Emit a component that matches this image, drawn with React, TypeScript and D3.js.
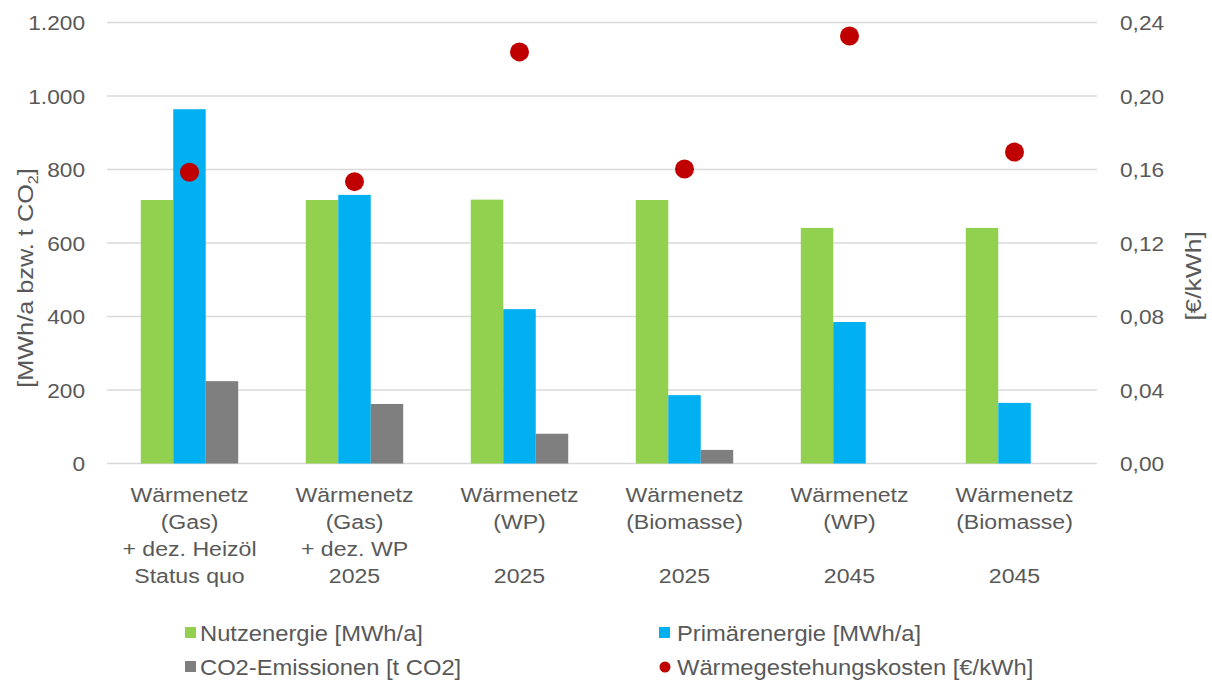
import React from "react";
import * as d3 from "d3";

const categories: string[][] = [
  ["Wärmenetz", "(Gas)", "+ dez. Heizöl", "Status quo"],
  ["Wärmenetz", "(Gas)", "+ dez. WP", "2025"],
  ["Wärmenetz", "(WP)", "", "2025"],
  ["Wärmenetz", "(Biomasse)", "", "2025"],
  ["Wärmenetz", "(WP)", "", "2045"],
  ["Wärmenetz", "(Biomasse)", "", "2045"],
];
const nutzenergie = [717, 717, 718, 717, 641, 641];
const primaerenergie = [964, 731, 420, 186, 385, 165];
const co2 = [224, 162, 81, 37, 0, 0];
const kosten = [0.1585, 0.1534, 0.224, 0.1603, 0.2327, 0.1695];
const leftTicks = [0, 200, 400, 600, 800, 1000, 1200];
const rightTicks = [0, 0.04, 0.08, 0.12, 0.16, 0.2, 0.24];

const seriesNames = ["Nutzenergie [MWh/a]", "Primärenergie [MWh/a]", "CO2-Emissionen [t CO2]", "Wärmegestehungskosten [€/kWh]"];
const colors = ["#92d050", "#00b0f0", "#7f7f7f", "#c00000"];

const W = 1212;
const H = 681;
const left = 107;
const right = 1097;
const top = 22.5;
const bottom = 463.5;
const textColor = "#595959";
const font = "'Liberation Sans', Arial, sans-serif";

type TProps = {
  x: number;
  y: number;
  size: number;
  sx?: number;
  anchor?: "start" | "middle" | "end";
  rotate?: number;
  children: React.ReactNode;
};

function T({ x, y, size, sx = 1.1, anchor = "start", rotate = 0, children }: TProps) {
  return (
    <text
      transform={`translate(${x},${y}) rotate(${rotate}) scale(${sx},1)`}
      textAnchor={anchor}
      fontSize={size}
      fill={textColor}
    >
      {children}
    </text>
  );
}

export default function App() {
  const x = d3.scaleBand<number>().domain(d3.range(categories.length)).range([left, right]).padding(0);
  const inner = d3.scaleBand<number>().domain([0, 1, 2]).range([0, x.bandwidth()]).paddingInner(0).paddingOuter(1.04);
  const yL = d3.scaleLinear().domain([0, 1200]).range([bottom, top]);
  const yR = d3.scaleLinear().domain([0, 0.24]).range([bottom, top]);
  const barSeries = [nutzenergie, primaerenergie, co2];
  const fmtL = (v: number) => d3.format(",")(v).replace(/,/g, ".");
  const fmtR = (v: number) => d3.format(".2f")(v).replace(".", ",");
  const cx = (i: number) => (x(i) ?? 0) + x.bandwidth() / 2;

  return (
    <svg width={W} height={H} style={{ position: "absolute", left: 0, top: 0, background: "#fff" }} fontFamily={font}>
      {leftTicks.map((t) => (
        <line key={"g" + t} x1={left} x2={right} y1={yL(t)} y2={yL(t)} stroke="#d9d9d9" strokeWidth={1.5} />
      ))}
      {leftTicks.map((t) => (
        <T key={"l" + t} x={85} y={yL(t) + 7.5} size={21} sx={1.08} anchor="end">
          {fmtL(t)}
        </T>
      ))}
      {rightTicks.map((t) => (
        <T key={"r" + t} x={1120} y={yR(t) + 7.5} size={21} sx={1.08}>
          {fmtR(t)}
        </T>
      ))}
      <T x={33} y={278} size={22} sx={1.15} rotate={-90} anchor="middle">
        [MWh/a bzw. t CO<tspan fontSize={14} dy={5}>2</tspan>
        <tspan dy={-5}>]</tspan>
      </T>
      <T x={1201} y={276} size={22} sx={1.2} rotate={-90} anchor="middle">
        [€/kWh]
      </T>
      {barSeries.map((s, si) =>
        s.map((v, i) => (
          <rect
            key={`b${si}-${i}`}
            x={(x(i) ?? 0) + (inner(si) ?? 0)}
            width={inner.bandwidth()}
            y={yL(v)}
            height={bottom - yL(v)}
            fill={colors[si]}
          />
        ))
      )}
      {kosten.map((v, i) => (
        <circle key={"c" + i} cx={cx(i)} cy={yR(v)} r={9.5} fill={colors[3]} />
      ))}
      {categories.map((lines, i) =>
        lines.map((ln, li) =>
          ln ? (
            <T key={`cat${i}-${li}`} x={cx(i)} y={502 + li * 27} size={21} sx={1.1} anchor="middle">
              {ln}
            </T>
          ) : null
        )
      )}
      {/* legend */}
      <rect x={185} y={627} width={11} height={11} fill={colors[0]} />
      <T x={200} y={641} size={22} sx={1.08}>{seriesNames[0]}</T>
      <rect x={659} y={627} width={11} height={11} fill={colors[1]} />
      <T x={677} y={641} size={22} sx={1.08}>{seriesNames[1]}</T>
      <rect x={185} y={661} width={11} height={11} fill={colors[2]} />
      <T x={200} y={675} size={22} sx={1.08}>{seriesNames[2]}</T>
      <circle cx={665} cy={667} r={5.5} fill={colors[3]} />
      <T x={677} y={675} size={22} sx={1.08}>{seriesNames[3]}</T>
    </svg>
  );
}
